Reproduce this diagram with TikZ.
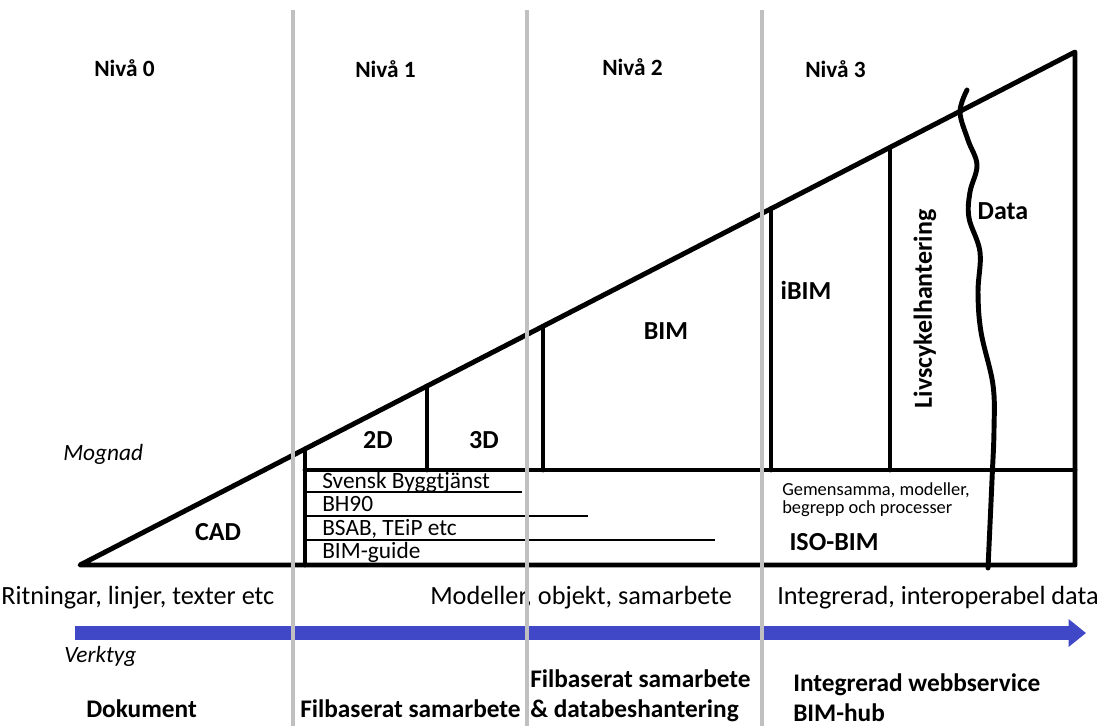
\documentclass[tikz,border=0pt]{standalone}
\usepackage{fontspec}
\setmainfont{Carlito}
\usepackage{xcolor}
\usetikzlibrary{positioning,calc,arrows.meta}

\definecolor{arrowblue}{RGB}{64,72,200}
\definecolor{gridgray}{RGB}{192,192,192}

\tikzset{
    heavy/.style={line width=3.7pt, line cap=round, line join=round},
    thinrule/.style={line width=1pt},
    level/.style={font=\bfseries\fontsize{17.5}{19}\selectfont, anchor=base west, inner sep=0pt},
    field/.style={font=\bfseries\fontsize{19.5}{21}\selectfont, anchor=base, inner sep=0pt},
    rowtext/.style={font=\fontsize{17.5}{18}\selectfont, anchor=base west, inner sep=0pt},
    smalltext/.style={font=\fontsize{13.8}{15}\selectfont, anchor=base west, inner sep=0pt},
    axistext/.style={font=\itshape\fontsize{17.5}{19}\selectfont, anchor=base west, inner sep=0pt},
    stage/.style={font=\fontsize{19.7}{22}\selectfont, anchor=base west, inner sep=0pt},
    tool/.style={font=\bfseries\fontsize{19}{22.5}\selectfont, anchor=base west, inner sep=0pt, align=left}
}

\begin{document}
\begin{tikzpicture}[x=0.75pt, y=-0.75pt]
	\useasboundingbox (0,0) rectangle (1104,726);

	% the maturity wedge
	\coordinate (tip) at (80,565);
	\coordinate (br) at (1075,565);
	\coordinate (tr) at (1075,52);
	\coordinate (shelf) at (305,470);
	\coordinate (d1) at ($(tip)!0.22613!(tr)$);
	\coordinate (d2) at ($(tip)!0.34874!(tr)$);
	\coordinate (d3) at ($(tip)!0.46533!(tr)$);
	\coordinate (d4) at ($(tip)!0.69447!(tr)$);
	\coordinate (d5) at ($(tip)!0.81407!(tr)$);
	\begin{scope}[heavy]
	    \draw (tip) -- (br) -- (tr) -- cycle;
	    \draw (d1) -- (d1 |- br);
	    \draw (d1 |- shelf) -- (br |- shelf);
	    \draw (d2) -- (d2 |- shelf);
	    \draw (d3) -- (d3 |- shelf);
	    \draw (d4) -- (d4 |- shelf);
	    \draw (d5) -- (d5 |- shelf);
	    \draw plot[smooth, tension=0.6] coordinates {(967,90) (960,112) (968,140) (977,165) (970,192) (969,218) (980,252) (978,292) (981,332) (993,385) (994,430) (992,480) (988,568)};
	\end{scope}

	% standards rows
	\coordinate (r1) at (522,492);
	\coordinate (r2) at (588,516);
	\coordinate (r3) at (715,540);
	\draw[thinrule] (d1 |- r1) -- (r1);
	\draw[thinrule] (d1 |- r2) -- (r2);
	\draw[thinrule] (d1 |- r3) -- (r3);

	% labels in the wedge
	\node[level] (n0) at (94,76) {Nivå 0};
	\node[level] (n1) at (355,77) {Nivå 1};
	\node[level] (n2) at (602,75) {Nivå 2};
	\node[level] (n3) at (805,77) {Nivå 3};
	\node[field] (cad) at (218,540) {CAD};
	\node[field] (twod) at (378,448) {2D};
	\node[field] (threed) at (484,448) {3D};
	\node[field] (bim) at (666,339) {BIM};
	\node[field] (ibim) at (806,299) {iBIM};
	\node[field] (data) at (1003,219) {Data};
	\node[field, anchor=center, rotate=90] (life) at (925,309) {Livscykelhantering};
	\node[rowtext] (sb) at (322,488) {Svensk Byggtjänst};
	\node[rowtext] (bh) at (322,511) {BH90};
	\node[rowtext] (bsab) at (322,535) {BSAB, TEiP etc};
	\node[rowtext] (guide) at (322,558) {BIM-guide};
	\node[smalltext] (gem) at (782,495) {Gemensamma, modeller,};
	\node[smalltext] (begr) at (782,513) {begrepp och processer};
	\node[field] (iso) at (834,550) {ISO-BIM};
	\node[axistext] (mog) at (63,460) {Mognad};

	% stages and tools
	\node[stage] (s0) at (1,604) {Ritningar, linjer, texter etc};
	\node[stage] (s1) at (430,604) {Modeller, objekt, samarbete};
	\node[stage] (s2) at (777,604) {Integrerad, interoperabel data};
	\coordinate (arrowstart) at (75,633);
	\coordinate (arrowend) at (1086,633);
	\draw[arrowblue, line width=10pt, -{Triangle[width=20pt, length=13pt]}] (arrowstart) -- (arrowend);
	\node[axistext] (verk) at (64,662) {Verktyg};
	\node[tool] (t0) at (86,717) {Dokument};
	\node[tool] (t1) at (300,717) {Filbaserat samarbete};
	\node[tool, anchor=south west] (t2) at (530,722) {Filbaserat samarbete\\\& databeshantering};
	\node[tool, anchor=south west] (t3) at (793,722) {Integrerad webbservice\\BIM-hub};

	% level dividers
	\foreach \gx in {293,527,762}
	    \draw[gridgray, line width=3pt] (\gx,10) -- (\gx,726);
\end{tikzpicture}
\end{document}
